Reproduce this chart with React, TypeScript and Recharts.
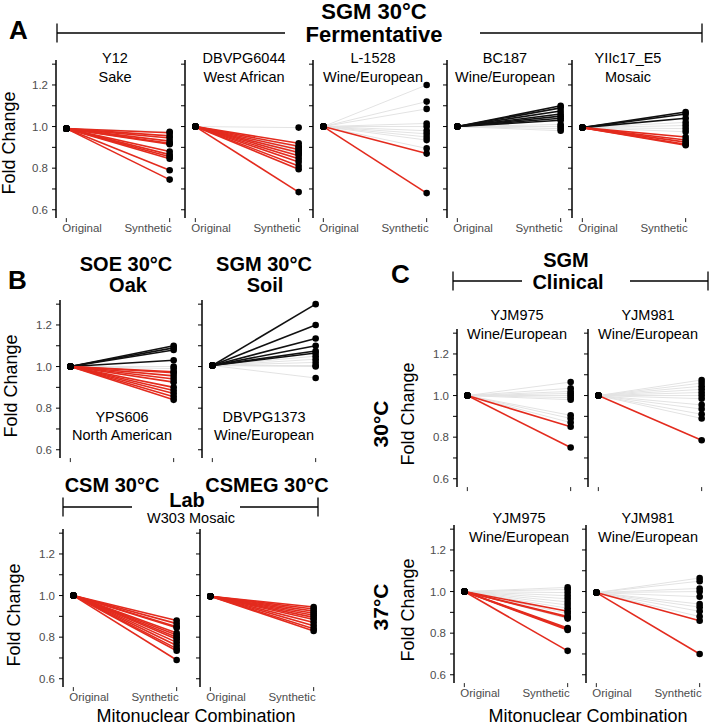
import React from "react";
import { ComposedChart, Line, XAxis, YAxis } from "recharts";

const FONT = '"Liberation Sans", Arial, Helvetica, sans-serif';
const RED = "#e32b1e";
const BLACK = "#111111";
const GREY = "#e3e3e3";

// shared axes
const xCategories = ["Original", "Synthetic"];
const yTicks = [0.6, 0.7, 0.8, 0.9, 1.0, 1.1, 1.2, 1.3];
const yLabelled = [0.6, 0.8, 1.0, 1.2];
const yDomain = [0.56, 1.32];

// A: SGM 30°C fermentative
const y12Orig = 0.99;
const y12Grey = [0.975];
const y12Black: number[] = [];
const y12Red = [0.97, 0.955, 0.945, 0.93, 0.92, 0.915, 0.88, 0.865, 0.855, 0.845, 0.79, 0.745];

const dbvpg6044Orig = 1.0;
const dbvpg6044Grey = [0.995, 0.9, 0.885, 0.87];
const dbvpg6044Black: number[] = [];
const dbvpg6044Red = [0.92, 0.905, 0.89, 0.875, 0.86, 0.845, 0.83, 0.81, 0.795, 0.685];

const l1528Orig = 1.0;
const l1528Grey = [1.2, 1.12, 1.085, 1.015, 1.0, 0.98, 0.965, 0.95, 0.935, 0.895];
const l1528Black: number[] = [];
const l1528Red = [0.87, 0.68];

const bc187Orig = 1.0;
const bc187Grey = [1.01, 1.0, 0.99, 0.98];
const bc187Black = [1.1, 1.09, 1.075, 1.06, 1.05, 1.04, 1.03];
const bc187Red: number[] = [];

const yiic17Orig = 0.995;
const yiic17Grey = [1.02, 1.005, 0.99, 0.975];
const yiic17Black = [1.07, 1.06, 1.04];
const yiic17Red = [0.95, 0.935, 0.925, 0.915, 0.91];

// B: wild isolates
const yps606Orig = 1.0;
const yps606Grey = [1.0, 0.99];
const yps606Black = [1.1, 1.09, 1.08, 1.03];
const yps606Red = [0.975, 0.97, 0.955, 0.94, 0.925, 0.9, 0.885, 0.87, 0.855, 0.84];

const dbvpg1373Orig = 1.005;
const dbvpg1373Grey = [1.05, 1.035, 1.02, 1.005, 1.0, 0.945];
const dbvpg1373Black = [1.3, 1.2, 1.135, 1.1, 1.075, 1.065];
const dbvpg1373Red: number[] = [];

// B: lab W303
const csmOrig = 1.0;
const csmGrey: number[] = [];
const csmBlack: number[] = [];
const csmRed = [0.88, 0.865, 0.85, 0.845, 0.82, 0.81, 0.8, 0.79, 0.775, 0.76, 0.745, 0.735, 0.69];

const csmegOrig = 0.997;
const csmegGrey: number[] = [];
const csmegBlack: number[] = [];
const csmegRed = [0.945, 0.935, 0.925, 0.915, 0.905, 0.895, 0.885, 0.87, 0.855, 0.84, 0.83];

// C: clinical
const yjm975Hot30Orig = 1.0;
const yjm975Hot30Grey = [1.065, 1.035, 1.02, 1.01, 1.0, 0.99, 0.98, 0.905, 0.89, 0.87];
const yjm975Hot30Black: number[] = [];
const yjm975Hot30Red = [0.85, 0.75];

const yjm981Hot30Orig = 1.0;
const yjm981Hot30Grey = [1.075, 1.06, 1.045, 1.03, 1.015, 1.0, 0.985, 0.955, 0.935, 0.91, 0.89];
const yjm981Hot30Black: number[] = [];
const yjm981Hot30Red = [0.785];

const yjm975Hot37Orig = 1.0;
const yjm975Hot37Grey = [1.02, 1.01, 0.995, 0.98, 0.965, 0.95, 0.935, 0.92, 0.895, 0.87];
const yjm975Hot37Black: number[] = [];
const yjm975Hot37Red = [0.905, 0.88, 0.875, 0.825, 0.82, 0.815, 0.715];

const yjm981Hot37Orig = 0.995;
const yjm981Hot37Grey = [1.065, 1.05, 1.015, 1.0, 0.975, 0.94, 0.925, 0.905, 0.88];
const yjm981Hot37Black: number[] = [];
const yjm981Hot37Red = [0.86, 0.7];

const PX = 208; // pixels per fold-change unit
const YW = 40;
const PW = 124;
const PH = (yDomain[1] - yDomain[0]) * PX;
const XH = 24;

const strips = [
  { id: "a1", orig: y12Orig, grey: y12Grey, black: y12Black, red: y12Red, ax: 56, one: 126.3, yl: true, xl: true },
  { id: "a2", orig: dbvpg6044Orig, grey: dbvpg6044Grey, black: dbvpg6044Black, red: dbvpg6044Red, ax: 185, one: 126.3, yl: false, xl: true },
  { id: "a3", orig: l1528Orig, grey: l1528Grey, black: l1528Black, red: l1528Red, ax: 313, one: 126.3, yl: false, xl: true },
  { id: "a4", orig: bc187Orig, grey: bc187Grey, black: bc187Black, red: bc187Red, ax: 447, one: 126.3, yl: false, xl: true },
  { id: "a5", orig: yiic17Orig, grey: yiic17Grey, black: yiic17Black, red: yiic17Red, ax: 572, one: 126.3, yl: false, xl: true },
  { id: "b1", orig: yps606Orig, grey: yps606Grey, black: yps606Black, red: yps606Red, ax: 60, one: 366.7, yl: true, xl: false },
  { id: "b2", orig: dbvpg1373Orig, grey: dbvpg1373Grey, black: dbvpg1373Black, red: dbvpg1373Red, ax: 202, one: 366.7, yl: false, xl: false },
  { id: "b3", orig: csmOrig, grey: csmGrey, black: csmBlack, red: csmRed, ax: 63, one: 596, yl: true, xl: true },
  { id: "b4", orig: csmegOrig, grey: csmegGrey, black: csmegBlack, red: csmegRed, ax: 200, one: 596, yl: false, xl: true },
  { id: "c1", orig: yjm975Hot30Orig, grey: yjm975Hot30Grey, black: yjm975Hot30Black, red: yjm975Hot30Red, ax: 457, one: 396, yl: true, xl: false },
  { id: "c2", orig: yjm981Hot30Orig, grey: yjm981Hot30Grey, black: yjm981Hot30Black, red: yjm981Hot30Red, ax: 588, one: 396, yl: false, xl: false },
  { id: "c3", orig: yjm975Hot37Orig, grey: yjm975Hot37Grey, black: yjm975Hot37Black, red: yjm975Hot37Red, ax: 454, one: 592, yl: true, xl: true },
  { id: "c4", orig: yjm981Hot37Orig, grey: yjm981Hot37Grey, black: yjm981Hot37Black, red: yjm981Hot37Red, ax: 586, one: 592, yl: false, xl: true },
];

function Strip({ s }: { s: (typeof strips)[number] }) {
  const series = [
    ...s.grey.map((v) => ({ v, c: GREY, w: 1 })),
    ...s.black.map((v) => ({ v, c: BLACK, w: 1.6 })),
    ...s.red.map((v) => ({ v, c: RED, w: 1.6 })),
  ];
  const rows: Record<string, number>[] = [{ x: 0 }, { x: 1 }];
  series.forEach((d, i) => {
    rows[0]["s" + i] = s.orig;
    rows[1]["s" + i] = d.v;
  });
  const top = s.one - (yDomain[1] - 1) * PX;

  const yTick = (p: any) => {
    const v = p.payload.value;
    if (!s.yl || !yLabelled.some((t) => Math.abs(t - v) < 1e-6)) return <g />;
    return (
      <text x={p.x} y={p.y} dy="0.35em" textAnchor="end" fontSize={11.5} fill="#4d4d4d" fontFamily={FONT}>
        {v.toFixed(1)}
      </text>
    );
  };
  const xTick = (p: any) => {
    if (!s.xl) return <g />;
    const first = p.payload.value === 0;
    return (
      <text
        x={first ? p.x - 4 : p.x + 2}
        y={p.y}
        dy="0.71em"
        textAnchor={first ? "start" : "end"}
        fontSize={11.5}
        fill="#4d4d4d"
        fontFamily={FONT}
      >
        {xCategories[p.payload.value]}
      </text>
    );
  };

  return (
    <div style={{ position: "absolute", left: s.ax - YW, top }}>
      <ComposedChart width={YW + PW + 6} height={PH + XH} data={rows} margin={{ top: 0, right: 6, bottom: 0, left: 0 }}>
        <XAxis
          type="number"
          dataKey="x"
          domain={[-0.1, 1.1]}
          ticks={[0, 1]}
          interval={0}
          height={XH}
          axisLine={false}
          stroke="#222"
          tickSize={4}
          tickMargin={2}
          tick={xTick}
        />
        <YAxis
          type="number"
          domain={yDomain}
          ticks={yTicks}
          interval={0}
          width={YW}
          stroke="#000"
          axisLine={{ strokeWidth: 1.5 }}
          tickSize={4}
          tickMargin={4}
          tick={yTick}
          allowDataOverflow
        />
        {series.map((d, i) => (
          <Line
            key={"l" + i}
            type="linear"
            dataKey={"s" + i}
            stroke={d.c}
            strokeWidth={d.w}
            dot={false}
            activeDot={false}
            isAnimationActive={false}
          />
        ))}
        {series.map((d, i) => (
          <Line
            key={"d" + i}
            type="linear"
            dataKey={"s" + i}
            stroke="none"
            dot={{ r: 3.3, fill: "#000", stroke: "none" }}
            activeDot={false}
            isAnimationActive={false}
          />
        ))}
      </ComposedChart>
    </div>
  );
}

const T = ({ x, y, size = 14.5, bold = false, anchor = "middle", rotate = false, children }: any) => (
  <text
    x={x}
    y={y}
    fontSize={size}
    fontWeight={bold ? 700 : 400}
    textAnchor={anchor}
    dominantBaseline="central"
    fill="#000"
    fontFamily={FONT}
    transform={rotate ? `rotate(-90 ${x} ${y})` : undefined}
  >
    {children}
  </text>
);

const Bracket = ({ x1, x2, gapL, gapR, y, h }: any) => (
  <g stroke="#000" strokeWidth={1.3}>
    <line x1={x1} y1={y} x2={gapL} y2={y} />
    <line x1={gapR} y1={y} x2={x2} y2={y} />
    <line x1={x1} y1={y - h} x2={x1} y2={y + h} />
    <line x1={x2} y1={y - h} x2={x2} y2={y + h} />
  </g>
);

export default function App() {
  return (
    <div style={{ position: "absolute", left: 0, top: 0, width: 709, height: 725, background: "#fff", fontFamily: FONT }}>
      {strips.map((s) => (
        <Strip key={s.id} s={s} />
      ))}
      <svg width={709} height={725} style={{ position: "absolute", left: 0, top: 0, pointerEvents: "none" }}>
        {/* A */}
        <T x={9} y={30} size={26} bold anchor="start">A</T>
        <T x={374} y={11} size={22} bold>SGM 30°C</T>
        <T x={374} y={34} size={22} bold>Fermentative</T>
        <Bracket x1={57} x2={702} gapL={285} gapR={480} y={33} h={9.5} />
        <T x={115} y={58}>Y12</T>
        <T x={115} y={77}>Sake</T>
        <T x={244} y={58}>DBVPG6044</T>
        <T x={244} y={77}>West African</T>
        <T x={373} y={58}>L-1528</T>
        <T x={373} y={77}>Wine/European</T>
        <T x={505} y={58}>BC187</T>
        <T x={505} y={77}>Wine/European</T>
        <T x={628} y={58}>YIIc17_E5</T>
        <T x={628} y={77}>Mosaic</T>
        <T x={9} y={143} size={18} rotate>Fold Change</T>

        {/* B */}
        <T x={8} y={280} size={26} bold anchor="start">B</T>
        <T x={126} y={264} size={20} bold>SOE 30°C</T>
        <T x={128} y={285} size={20} bold>Oak</T>
        <T x={264} y={264} size={20} bold>SGM 30°C</T>
        <T x={265} y={285} size={20} bold>Soil</T>
        <T x={122} y={417}>YPS606</T>
        <T x={122} y={435}>North American</T>
        <T x={264} y={417}>DBVPG1373</T>
        <T x={264} y={435}>Wine/European</T>
        <T x={11} y={386} size={18} rotate>Fold Change</T>
        <T x={112} y={485} size={20} bold>CSM 30°C</T>
        <T x={267} y={485} size={20} bold>CSMEG 30°C</T>
        <Bracket x1={63} x2={318} gapL={132} gapR={240} y={507} h={9.5} />
        <T x={187} y={500} size={20} bold>Lab</T>
        <T x={191} y={518}>W303 Mosaic</T>
        <T x={14} y={615} size={18} rotate>Fold Change</T>
        <T x={196} y={716} size={18}>Mitonuclear Combination</T>

        {/* C */}
        <T x={391} y={274} size={26} bold anchor="start">C</T>
        <T x={566} y={260} size={20} bold>SGM</T>
        <T x={568} y={282} size={20} bold>Clinical</T>
        <Bracket x1={453} x2={708} gapL={522} gapR={630} y={281} h={9.5} />
        <T x={517} y={315}>YJM975</T>
        <T x={517} y={334}>Wine/European</T>
        <T x={648} y={315}>YJM981</T>
        <T x={648} y={334}>Wine/European</T>
        <T x={380} y={424} size={21} bold rotate>30°C</T>
        <T x={408} y={414} size={18} rotate>Fold Change</T>
        <T x={519} y={518}>YJM975</T>
        <T x={519} y={537}>Wine/European</T>
        <T x={648} y={518}>YJM981</T>
        <T x={648} y={537}>Wine/European</T>
        <T x={380} y={607} size={21} bold rotate>37°C</T>
        <T x={408} y={610} size={18} rotate>Fold Change</T>
        <T x={588} y={716} size={18}>Mitonuclear Combination</T>
      </svg>
    </div>
  );
}
